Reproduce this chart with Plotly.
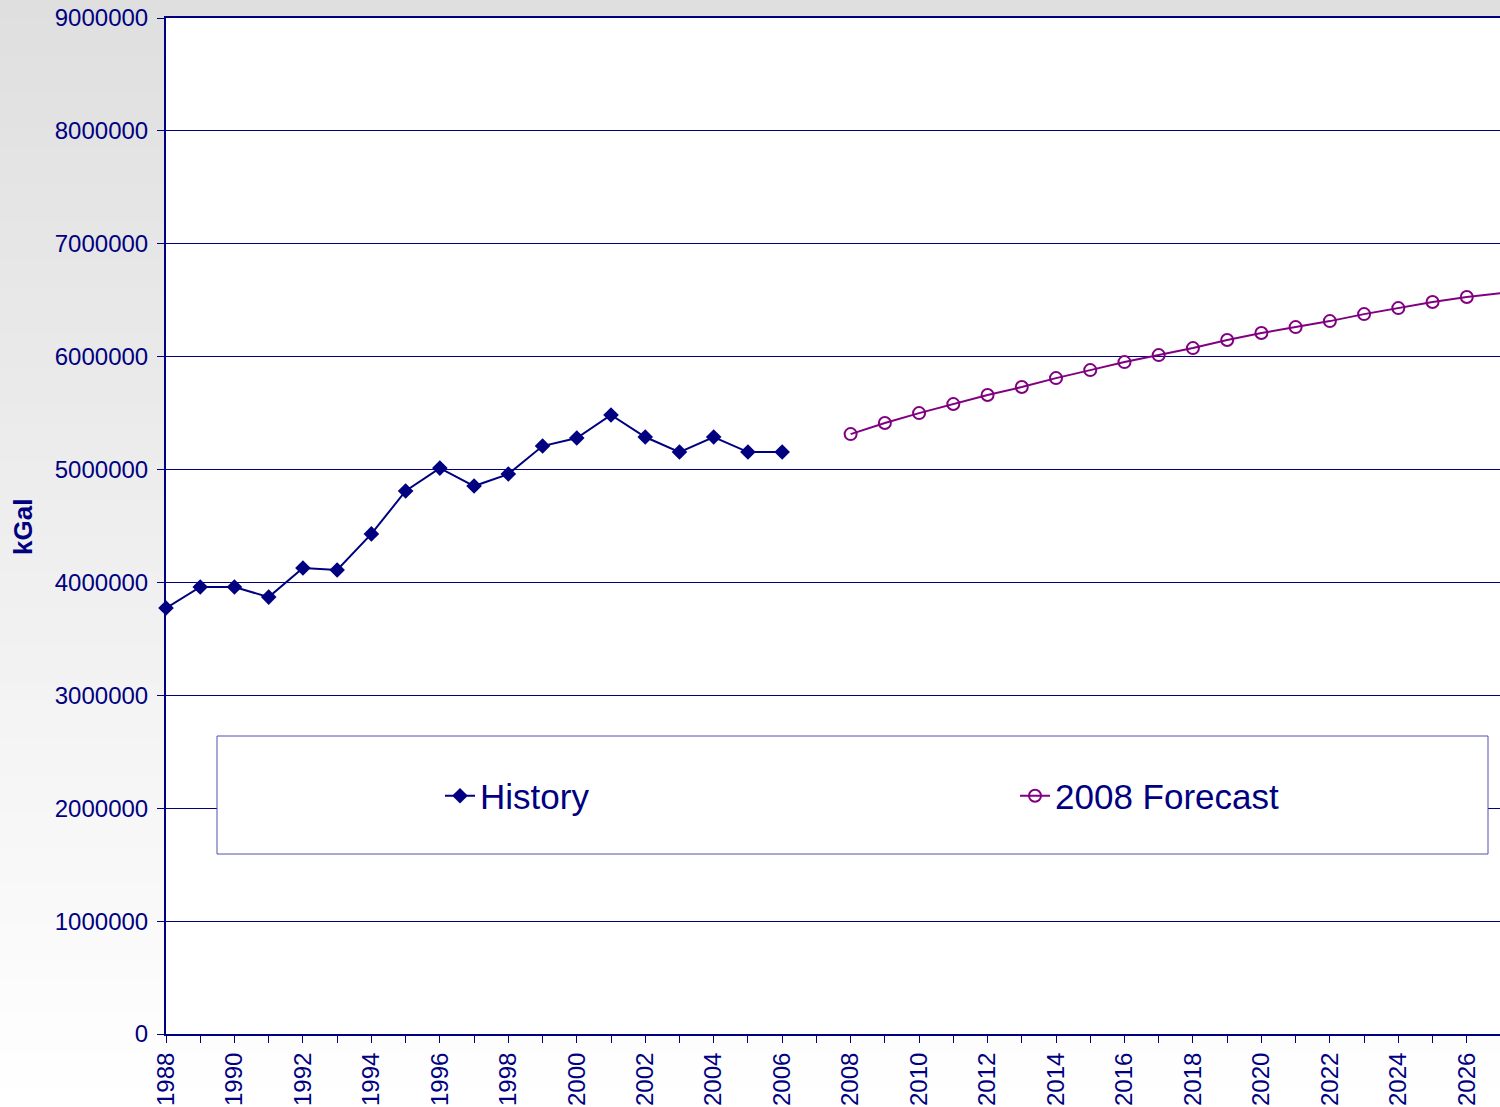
import plotly.graph_objects as go

# Annual water use, thousands of gallons
history_years = list(range(1988, 2007))
history_kgal = [3773000, 3960000, 3960000, 3870000, 4128000, 4110000, 4430000,
                4810000, 5013000, 4854000, 4960000, 5208000, 5279000, 5483000,
                5288000, 5155000, 5288000, 5155000, 5155000]

forecast_years = list(range(2008, 2028))
forecast_kgal = [5314000, 5412000, 5500000, 5580000, 5660000, 5731000, 5810000,
                 5881000, 5952000, 6014000, 6076000, 6147000, 6209000, 6262000,
                 6315000, 6377000, 6430000, 6484000, 6528000, 6563000]

NAVY = "#000080"
PURPLE = "#800080"
FONT = "Liberation Sans, Arial, sans-serif"

W, H = 1500, 1107
ML, MR, MT, MB = 166, 0, 18, 73
PW, PH = W - ML - MR, H - MT - MB


def px_x(px):
    return (px - ML) / PW


def px_y(py):
    return (H - MB - py) / PH


fig = go.Figure()

fig.add_trace(go.Scatter(
    x=history_years, y=history_kgal, name="History",
    mode="lines+markers", cliponaxis=False,
    line=dict(color=NAVY, width=2),
    marker=dict(symbol="diamond", size=12, color=NAVY),
))
fig.add_trace(go.Scatter(
    x=forecast_years, y=forecast_kgal, name="2008 Forecast",
    mode="lines+markers", cliponaxis=False,
    line=dict(color=PURPLE, width=2),
    marker=dict(symbol="circle-open", size=12, color=PURPLE, line=dict(width=2)),
))

# vertical grey-to-white background wash behind the chart
shapes = []
n = 60
for i in range(n):
    y0, y1 = i * H / n, (i + 1) * H / n
    g = int(round(223 + (255 - 223) * (i + 0.5) / n))
    shapes.append(dict(
        type="rect", xref="paper", yref="paper", layer="below",
        x0=px_x(0), x1=px_x(W), y0=px_y(y1 + 1), y1=px_y(y0),
        fillcolor=f"rgb({g},{g},{g})", line=dict(width=0),
    ))
# white plotting area
shapes.append(dict(
    type="rect", xref="paper", yref="paper", layer="below",
    x0=0, x1=1, y0=0, y1=1, fillcolor="white", line=dict(width=0),
))
# legend frame
shapes.append(dict(
    type="rect", xref="paper", yref="paper", layer="above",
    x0=px_x(217), x1=px_x(1488), y0=px_y(854), y1=px_y(736),
    fillcolor="white", line=dict(color="#5050a8", width=1),
))

fig.update_layout(
    width=W, height=H,
    margin=dict(l=ML, r=MR, t=MT, b=MB, autoexpand=False),
    paper_bgcolor="white", plot_bgcolor="rgba(0,0,0,0)",
    font=dict(family=FONT, color=NAVY),
    shapes=shapes,
    showlegend=True,
    legend=dict(
        orientation="h", x=px_x(440), y=px_y(796),
        xanchor="left", yanchor="middle",
        bgcolor="rgba(0,0,0,0)", borderwidth=0,
        font=dict(size=35, color=NAVY, family=FONT),
        entrywidth=530, entrywidthmode="pixels",
        itemclick=False,
    ),
    annotations=[dict(
        text="<b>kGal</b>", textangle=-90, xref="paper", yref="paper",
        x=px_x(23), y=px_y(527), xanchor="center", yanchor="middle",
        showarrow=False, font=dict(size=26, color=NAVY, family=FONT),
    )],
)

fig.update_xaxes(
    range=[1988, 2026.97], tick0=1988, dtick=2,
    tickangle=-90, ticks="outside", ticklen=7, tickwidth=1, tickcolor=NAVY,
    minor=dict(dtick=1, tick0=1988, ticks="outside", ticklen=7, tickcolor=NAVY, showgrid=False),
    showgrid=False, zeroline=False,
    showline=True, linecolor=NAVY, linewidth=2, mirror=True,
    tickfont=dict(size=24, color=NAVY, family=FONT),
    automargin=False,
)
fig.update_yaxes(
    range=[0, 9000000], dtick=1000000, tickformat="d",
    ticks="outside", ticklen=7, tickwidth=1, tickcolor=NAVY,
    showgrid=True, gridcolor=NAVY, gridwidth=1, zeroline=False,
    showline=True, linecolor=NAVY, linewidth=2,
    tickfont=dict(size=24, color=NAVY, family=FONT),
    ticklabelstandoff=4,
    automargin=False,
)

fig.write_html("out.html")
